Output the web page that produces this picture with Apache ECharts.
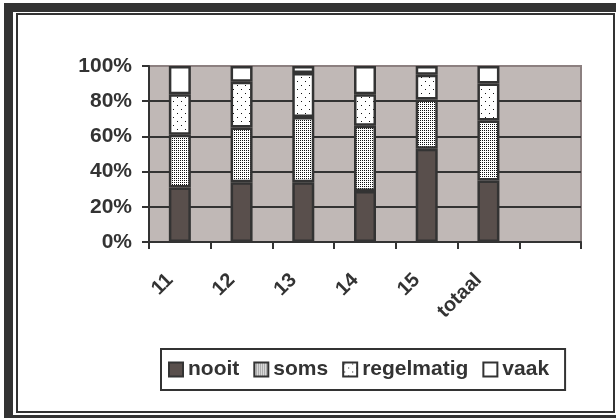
<!DOCTYPE html>
<html>
<head>
<meta charset="utf-8">
<script src="https://cdn.jsdelivr.net/npm/echarts@6.0.0/dist/echarts.min.js"></script>
<style>
  html, body { margin: 0; padding: 0; background: #fff; }
  #main { width: 616px; height: 418px; }
</style>
</head>
<body>
<div id="main"></div>
<script>
// categorieën en waarden (percentages)
var categories = ['11', '12', '13', '14', '15', 'totaal', ''];
var nooit = [31, 34, 34, 29, 53, 35];
var soms = [30, 31, 37, 37, 28, 34];
var regelmatig = [23, 26, 25, 18, 14, 21];
var vaak = [16, 9, 4, 16, 5, 10];
var seriesNames = ['nooit', 'soms', 'regelmatig', 'vaak'];

var fontFam = 'Arial, "Liberation Sans", sans-serif';
var dark = '#333';

// patroon maken op een klein canvas
function makePattern(size, dots) {
  var c = document.createElement('canvas');
  c.width = size;
  c.height = size;
  var ctx = c.getContext('2d');
  ctx.fillStyle = '#fff';
  ctx.fillRect(0, 0, size, size);
  ctx.fillStyle = '#111';
  for (var i = 0; i < dots.length; i++) {
    ctx.fillRect(dots[i][0], dots[i][1], 1, 1);
  }
  return { image: c, repeat: 'repeat' };
}

var somsFill = makePattern(2, [[0, 0]]);
var regelFill = makePattern(8, [[1, 1], [5, 5]]);

function barSerie(name, data, fill) {
  return {
    name: name,
    type: 'bar',
    stack: 'totaal',
    barWidth: 22,
    data: data,
    itemStyle: {
      color: fill,
      borderColor: dark,
      borderWidth: 2.5
    }
  };
}

var myChart = echarts.init(document.getElementById('main'));
var option = {
  animation: false,
  textStyle: { fontFamily: fontFam },
  graphic: [
    { type: 'rect', z: -100, silent: true, shape: { x: 4, y: 3, width: 630, height: 430 }, style: { fill: dark } },
    { type: 'rect', z: -99, silent: true, shape: { x: 13, y: 12, width: 620, height: 403 }, style: { fill: '#fff' } },
    { type: 'rect', z: -98, silent: true, shape: { x: 17, y: 14, width: 597, height: 398 }, style: { fill: 'none', stroke: dark, lineWidth: 2 } }
  ],
  grid: {
    left: 149,
    right: 35,
    top: 66,
    bottom: 176,
    show: true,
    backgroundColor: '#c0b8b6',
    borderColor: '#8c8080',
    borderWidth: 2
  },
  legend: {
    data: seriesNames,
    icon: 'rect',
    left: 161,
    top: 349,
    orient: 'horizontal',
    itemWidth: 14,
    itemHeight: 14,
    itemGap: 14,
    padding: [10, 16, 10, 7],
    borderColor: dark,
    borderWidth: 2,
    backgroundColor: '#fff',
    textStyle: { fontSize: 21, fontWeight: 'bold', color: dark, fontFamily: fontFam }
  },
  xAxis: {
    type: 'category',
    data: categories,
    axisLine: { lineStyle: { color: dark, width: 2 } },
    axisTick: { show: true, length: 7, lineStyle: { color: dark, width: 2 } },
    axisLabel: {
      rotate: 45,
      interval: 0,
      margin: 25,
      padding: [0, 14, 0, 0],
      fontSize: 20,
      fontWeight: 'bold',
      color: dark,
      fontFamily: fontFam
    }
  },
  yAxis: {
    type: 'value',
    min: 0,
    max: 100,
    interval: 20,
    axisLine: { show: true, lineStyle: { color: dark, width: 2 } },
    axisTick: { show: true, length: 7, lineStyle: { color: dark, width: 2 } },
    splitLine: {
      show: true,
      lineStyle: { color: [dark, dark, dark, dark, dark, '#8c8080'], width: 2 }
    },
    axisLabel: {
      formatter: '{value}%',
      margin: 17,
      fontSize: 21,
      fontWeight: 'bold',
      color: dark,
      fontFamily: fontFam
    }
  },
  series: [
    barSerie('nooit', nooit, '#594f4c'),
    barSerie('soms', soms, somsFill),
    barSerie('regelmatig', regelmatig, regelFill),
    barSerie('vaak', vaak, '#fff')
  ]
};
myChart.setOption(option);
</script>
</body>
</html>
